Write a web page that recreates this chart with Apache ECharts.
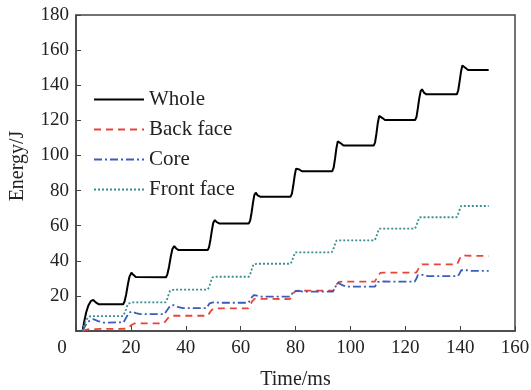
<!DOCTYPE html>
<html>
<head>
<meta charset="utf-8">
<script src="https://cdn.jsdelivr.net/npm/echarts@6/dist/echarts.min.js"></script>
<style>
  html, body { margin: 0; padding: 0; background: #fff; }
  #chart { width: 531px; height: 390px; }
</style>
</head>
<body>
<div id="chart"></div>
<script>
const seriesNames = ['Whole', 'Back face', 'Core', 'Front face'];

// [time ms, energy J]
const wholeData = [
  [2.4, 0], [3.0, 5.5], [3.7, 10.5], [4.5, 14.5], [5.4, 17], [6.3, 17.7], [7.2, 16.3], [8.2, 15.3], [17.2, 15.2],
  [17.7, 16.8], [18.3, 21], [18.9, 26.5], [19.5, 31], [20.2, 33.2], [20.9, 32], [21.8, 30.7], [32.8, 30.6],
  [33.3, 32.3], [33.9, 36.5], [34.5, 42], [35.1, 46.5], [35.8, 48.4], [36.5, 47], [37.4, 46.1], [48.0, 46.1],
  [48.5, 47.8], [49.0, 52], [49.5, 57], [50.0, 61.5], [50.6, 63.2], [51.3, 62], [52.2, 61.3], [63.0, 61.3],
  [63.5, 63], [64.0, 67.5], [64.5, 73], [65.0, 77.5], [65.5, 78.8], [66.2, 77.3], [67.1, 76.5], [78.2, 76.5],
  [78.7, 78.3], [79.2, 83], [79.7, 88.5], [80.2, 92.5], [80.7, 93.6], [81.4, 92], [82.3, 91.0], [93.4, 91.0],
  [93.9, 93], [94.4, 98], [94.9, 104], [95.4, 108], [95.9, 108.8], [96.6, 106.8], [97.5, 105.6], [108.5, 105.6],
  [109.0, 107.5], [109.5, 112.5], [110.0, 118.5], [110.5, 122.5], [111.0, 123.4], [111.7, 121.3], [112.6, 120.2], [123.6, 120.2],
  [124.1, 122], [124.6, 127], [125.1, 132.5], [125.6, 136.5], [126.1, 137.7], [126.8, 135.8], [127.7, 134.8], [138.8, 134.8],
  [139.3, 137], [139.8, 142], [140.3, 147.5], [140.8, 151.2], [141.3, 152], [142.0, 149.8], [142.9, 148.7], [150.4, 148.7]
];

const backData = [
  [2.4, 0], [3.5, 0.6], [5.0, 1.1], [18.4, 1.3], [19.2, 2], [20.2, 3.4], [21.3, 4.3], [22.5, 4.4], [32.0, 4.4],
  [32.7, 5.5], [33.5, 7.3], [34.4, 8.6], [35.5, 8.7], [48.0, 8.7],
  [48.6, 9.8], [49.3, 11.7], [50.1, 12.8], [51.2, 12.9], [62.8, 12.9],
  [63.4, 14.5], [64.2, 16.9], [65.0, 18.3], [66.0, 18.3], [78.0, 18.2],
  [78.6, 19.7], [79.3, 21.7], [80.1, 22.9], [81.2, 23], [93.8, 23.0],
  [94.4, 24.6], [95.1, 26.8], [95.9, 28], [97.0, 28.1], [108.9, 28.1],
  [109.5, 29.8], [110.2, 32], [111.0, 33.1], [112.0, 33.2], [124.0, 33.2],
  [124.6, 34.8], [125.3, 36.9], [126.1, 38], [127.0, 38], [138.9, 38],
  [139.5, 40], [140.2, 42.3], [141.0, 43.3], [142.2, 42.9], [150.4, 42.7]
];

const coreData = [
  [2.4, 0], [3.2, 2.5], [4.2, 5], [5.3, 6.3], [6.5, 6.7], [8.0, 5.6], [10.0, 4.8], [17.3, 4.9],
  [17.9, 6], [18.6, 8.5], [19.4, 10.5], [20.4, 11.1], [21.8, 10.2], [23.5, 9.6], [32.2, 9.6],
  [32.8, 10.6], [33.5, 12.5], [34.3, 14.3], [35.5, 14.8], [37.0, 13.8], [39.0, 13.0], [47.6, 13.0],
  [48.1, 14], [48.7, 15.8], [49.4, 16.8], [50.5, 16.5], [52.0, 16.1], [62.8, 16.1],
  [63.4, 17.3], [64.1, 19.3], [64.9, 20.5], [66.0, 20.1], [67.5, 19.6], [78.0, 19.6],
  [78.6, 20.8], [79.3, 22.6], [80.0, 23.4], [81.2, 22.8], [82.8, 22.4], [93.6, 22.4],
  [94.2, 23.8], [94.8, 26], [95.5, 27.4], [96.8, 26.3], [98.5, 25.3], [108.9, 25.3],
  [109.5, 26.5], [110.1, 28], [110.8, 28.6], [112.0, 28.2], [123.4, 28.1],
  [124.0, 29.6], [124.6, 31.8], [125.3, 32.9], [126.6, 32], [128.2, 31.3], [139.2, 31.3],
  [139.8, 32.8], [140.4, 34.6], [141.1, 35.3], [142.4, 34.6], [144.0, 34.2], [150.4, 34.2]
];

const frontData = [
  [2.4, 0], [3.0, 3.5], [3.8, 6.5], [4.8, 8.2], [5.8, 8.5], [17.2, 8.5],
  [17.7, 9.5], [18.3, 12.5], [18.9, 15.5], [19.6, 16.4], [20.5, 16.3], [32.6, 16.3],
  [33.1, 17.5], [33.7, 20.5], [34.3, 23], [35.0, 23.8], [35.8, 23.6], [48.0, 23.6],
  [48.5, 25], [49.1, 28], [49.7, 30.5], [50.4, 31.2], [51.2, 30.9], [63.0, 30.9],
  [63.5, 32.3], [64.1, 35.5], [64.7, 38], [65.4, 38.7], [66.2, 38.3], [78.2, 38.3],
  [78.7, 39.8], [79.3, 42.5], [79.9, 44.8], [80.6, 45.3], [81.4, 44.8], [93.2, 44.8],
  [93.7, 46.2], [94.3, 49], [94.9, 51.5], [95.6, 52.2], [96.4, 51.6], [108.8, 51.6],
  [109.3, 53], [109.9, 56], [110.5, 58.3], [111.2, 58.8], [112.0, 58.3], [123.5, 58.3],
  [124.0, 59.7], [124.6, 62.5], [125.2, 64.8], [125.9, 65.3], [126.7, 64.8], [138.7, 64.8],
  [139.2, 66.3], [139.8, 69], [140.4, 71.3], [141.1, 71.7], [141.9, 71.2], [150.4, 71.2]
];

const font = 'Liberation Serif, Times New Roman, serif';
const axisColor = '#444';

const chart = echarts.init(document.getElementById('chart'));

const option = {
  animation: false,
  grid: {
    left: 76, right: 16, top: 15, bottom: 59,
    outerBoundsMode: 'none',
    containLabel: false,
    show: true, borderColor: axisColor, borderWidth: 1.5
  },
  legend: {
    data: seriesNames,
    orient: 'vertical',
    left: 93, top: 89,
    padding: 0,
    itemWidth: 50, itemHeight: 14, itemGap: 9,
    itemStyle: { opacity: 0 },
    textStyle: { fontFamily: font, fontSize: 21, color: '#222' }
  },
  xAxis: {
    type: 'value',
    min: 0, max: 160, interval: 20,
    name: 'Time/ms',
    nameLocation: 'middle',
    nameGap: 39,
    nameTextStyle: { fontFamily: font, fontSize: 20, color: '#222' },
    axisLine: { lineStyle: { color: axisColor, width: 1.5 } },
    axisTick: { inside: true, length: 5, lineStyle: { color: axisColor } },
    splitLine: { show: false },
    axisLabel: {
      fontFamily: font, fontSize: 19, color: '#222', margin: 8,
      formatter: v => (v === 0 ? '{z|0}' : String(v)),
      rich: { z: { fontFamily: font, fontSize: 19, color: '#222', padding: [0, 28, 0, 0] } }
    }
  },
  yAxis: {
    type: 'value',
    min: 0, max: 180, interval: 20,
    name: 'Energy/J',
    nameLocation: 'middle',
    nameGap: 48,
    nameTextStyle: { fontFamily: font, fontSize: 20, color: '#222', padding: [0, 0, 0, 14] },
    axisLine: { lineStyle: { color: axisColor, width: 1.5 } },
    axisTick: { inside: true, length: 5, lineStyle: { color: axisColor } },
    splitLine: { show: false },
    axisLabel: {
      fontFamily: font, fontSize: 19, color: '#222', margin: 7,
      formatter: v => (v === 0 ? '' : String(v))
    }
  },
  series: [
    {
      name: seriesNames[0], type: 'line', data: wholeData, showSymbol: false, symbol: 'none',
      lineStyle: { color: '#000', width: 2, type: 'solid' }, itemStyle: { color: '#000' }
    },
    {
      name: seriesNames[1], type: 'line', data: backData, showSymbol: false, symbol: 'none',
      lineStyle: { color: '#e8453a', width: 1.8, type: [7, 5] }, itemStyle: { color: '#e8453a' }
    },
    {
      name: seriesNames[2], type: 'line', data: coreData, showSymbol: false, symbol: 'none',
      lineStyle: { color: '#3b5cb8', width: 1.8, type: [8, 3, 2, 3] }, itemStyle: { color: '#3b5cb8' }
    },
    {
      name: seriesNames[3], type: 'line', data: frontData, showSymbol: false, symbol: 'none',
      lineStyle: { color: '#3a9090', width: 1.8, type: [2, 2] }, itemStyle: { color: '#3a9090' }
    }
  ]
};

option && chart.setOption(option);
</script>
</body>
</html>
